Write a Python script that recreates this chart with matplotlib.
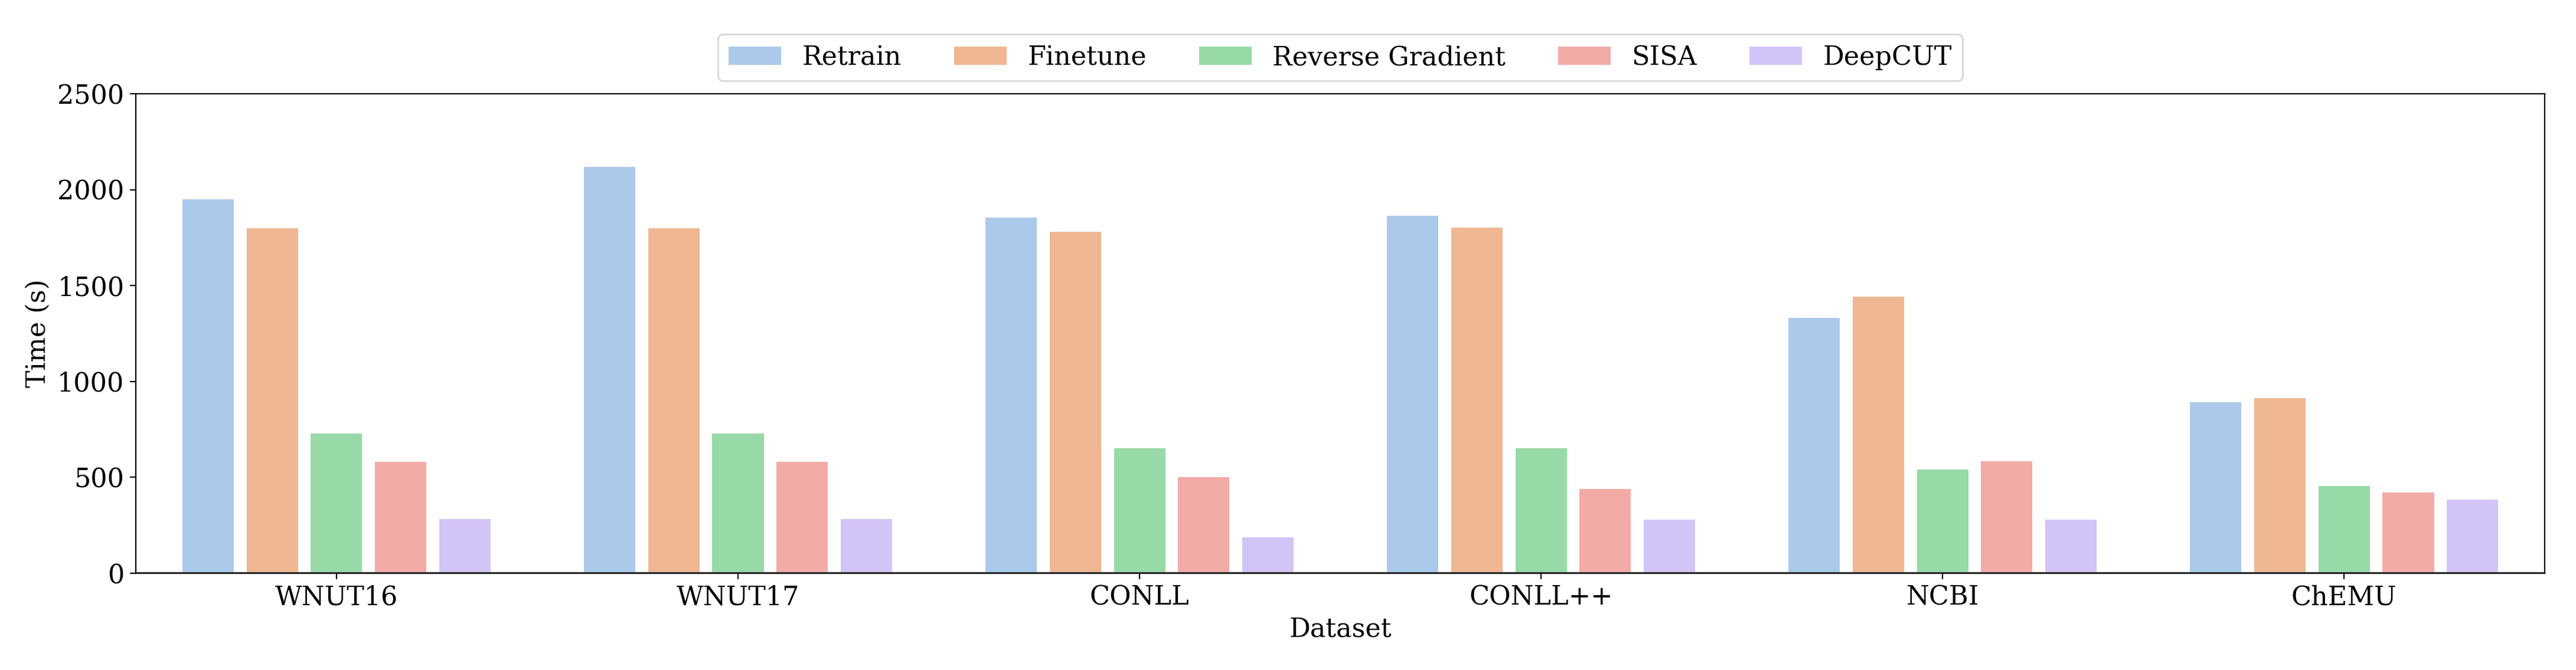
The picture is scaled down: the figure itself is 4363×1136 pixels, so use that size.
import matplotlib
matplotlib.use("Agg")
import matplotlib.pyplot as plt
import seaborn as sns
import pandas as pd

datasets = ["WNUT16", "WNUT17", "CONLL", "CONLL++", "NCBI", "ChEMU"]
methods = ["Retrain", "Finetune", "Reverse Gradient", "SISA", "DeepCUT"]

retrain = [1950, 2120, 1855, 1862, 1330, 892]
finetune = [1800, 1800, 1780, 1802, 1441, 913]
reverse_gradient = [730, 730, 652, 652, 541, 456]
sisa = [582, 582, 500, 439, 583, 421]
deepcut = [282, 282, 186, 281, 281, 383]

rows = []
for method, values in zip(methods, [retrain, finetune, reverse_gradient, sisa, deepcut]):
    for ds, v in zip(datasets, values):
        rows.append({"Dataset": ds, "Method": method, "Time (s)": v})
df = pd.DataFrame(rows)

plt.rcParams['font.family'] = ['DejaVu Serif']
plt.rcParams['font.size'] = 16

fig = plt.figure(figsize=(4363 / 200, 1136 / 200), dpi=200)
ax = fig.add_axes([0.0527, 0.1444, 0.9352, 0.7156])

sns.barplot(data=df, x="Dataset", y="Time (s)", hue="Method",
            palette="pastel", gap=0.2, ax=ax)

ax.axhline(0, color='0.2', linewidth=1.4, zorder=5)
ax.set_ylim(0, 2500)
ax.set_xlim(-0.5, 5.5)
ax.set_yticks([0, 500, 1000, 1500, 2000, 2500])
ax.set_xlabel("Dataset")
ax.set_ylabel("Time (s)")

ax.legend(loc='lower center', bbox_to_anchor=(0.5, 1.0), ncol=5,
          title=None, fontsize=16)

plt.savefig("out.png", dpi=200)
